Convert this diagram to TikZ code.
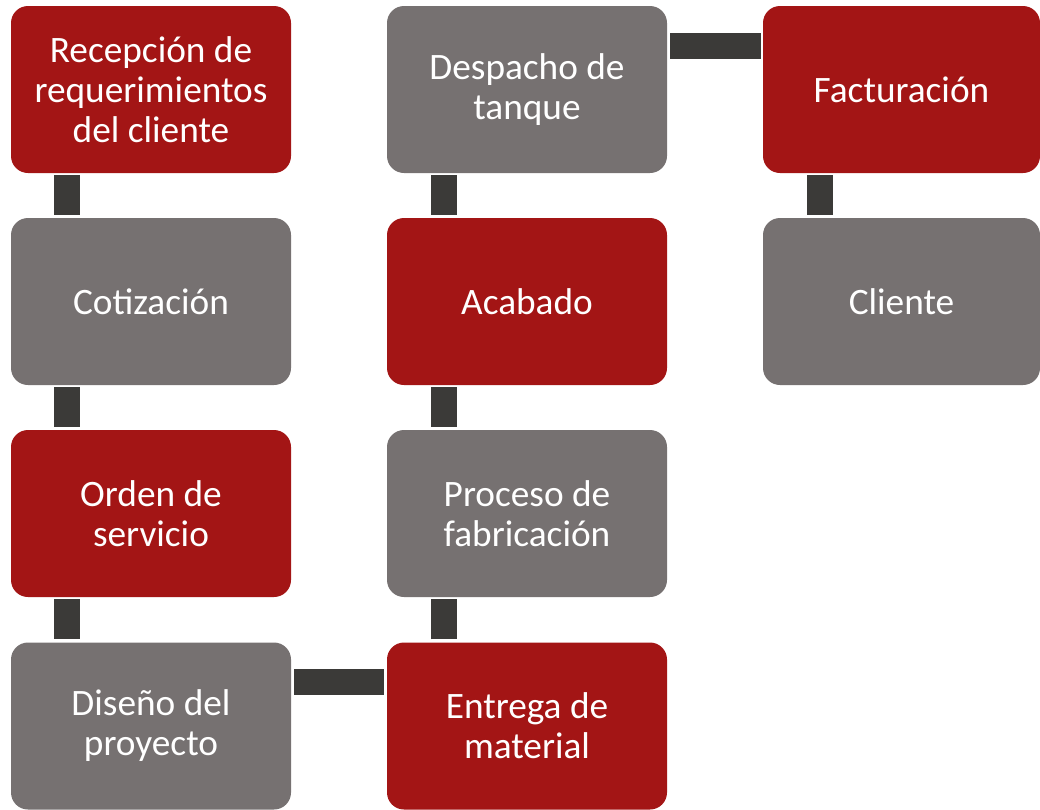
\documentclass[tikz,border=0pt]{standalone}
\usepackage{fontspec}
\setmainfont{Carlito}
\usetikzlibrary{calc}
\definecolor{redbox}{HTML}{A31515}
\definecolor{graybox}{HTML}{767171}
\definecolor{barc}{HTML}{3B3A38}
\tikzset{
  stepbox/.style={rectangle, rounded corners=17pt, minimum width=280pt, minimum height=167pt,
    inner sep=0pt, text=white, align=center,
    font=\fontsize{37.3pt}{40pt}\selectfont},
  redstep/.style={stepbox, fill=redbox},
  graystep/.style={stepbox, fill=graybox},
  narrow/.style={minimum width=277pt},
  bar/.style={draw=barc, line width=26pt}
}
\begin{document}
\begin{tikzpicture}[x=1pt,y=-1pt]
\useasboundingbox (0,0) rectangle (1040,809);
\node[redstep]  (rec) at (151,89.5)  {Recepción de\\requerimientos\\del cliente};
\node[graystep] (cot) at (151,301.5) {Cotización};
\node[redstep]  (ord) at (151,513.5) {Orden de\\servicio};
\node[graystep] (dis) at (151,726)   {Diseño del\\proyecto};
\node[redstep]  (ent) at (527,726)   {Entrega de\\material};
\node[graystep] (pro) at (527,513.5) {Proceso de\\fabricación};
\node[redstep]  (aca) at (527,301.5) {Acabado};
\node[graystep] (des) at (527,89.5)  {Despacho de\\tanque};
\node[redstep,narrow]  (fac) at (901.5,89.5)  {Facturación};
\node[graystep,narrow] (cli) at (901.5,301.5) {Cliente};
% vertical connectors
\draw[bar] ($(rec.south west)+(56,2)$) -- ($(cot.north west)+(56,-3)$);
\draw[bar] ($(cot.south west)+(56,2)$) -- ($(ord.north west)+(56,-3)$);
\draw[bar] ($(ord.south west)+(56,2)$) -- ($(dis.north west)+(56,-3)$);
\draw[bar] ($(ent.north west)+(57,-3)$) -- ($(pro.south west)+(57,2)$);
\draw[bar] ($(pro.north west)+(57,-3)$) -- ($(aca.south west)+(57,2)$);
\draw[bar] ($(aca.north west)+(57,-3)$) -- ($(des.south west)+(57,2)$);
\draw[bar] ($(fac.south west)+(57,2)$) -- ($(cli.north west)+(57,-3)$);
% horizontal connectors
\draw[bar] ($(dis.north east)+(3,40)$) -- ($(ent.north west)+(-3,40)$);
\draw[bar] ($(des.north east)+(3,40.5)$) -- ($(fac.north west)+(-2,40.5)$);
\end{tikzpicture}
\end{document}
